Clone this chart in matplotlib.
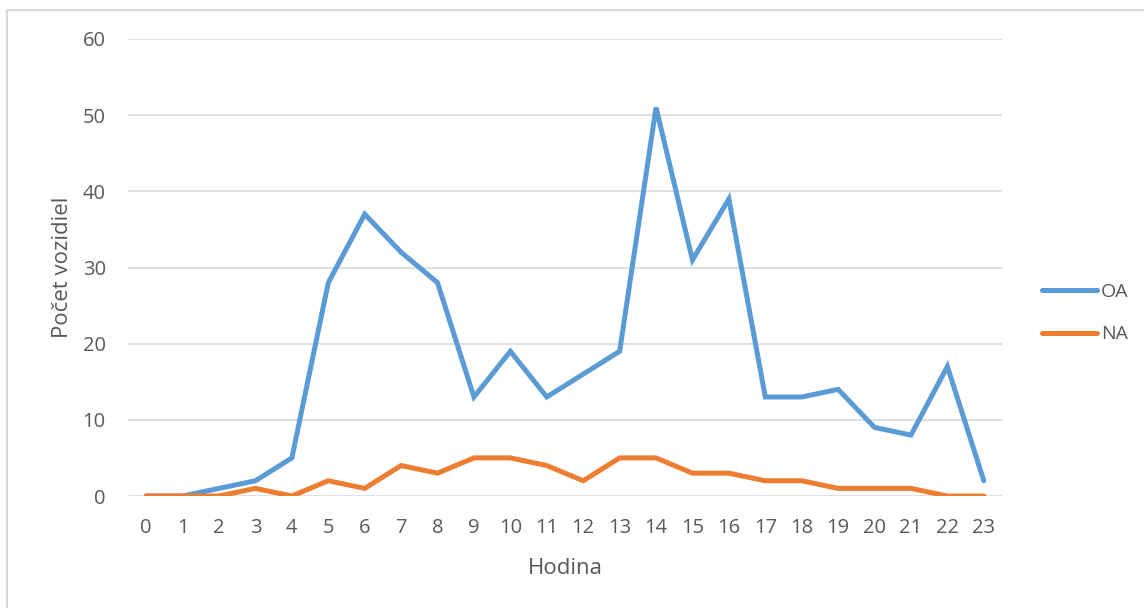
import matplotlib
matplotlib.use("Agg")
import matplotlib.pyplot as plt
from matplotlib.patches import Rectangle

hours = list(range(24))
oa = [0, 0, 1, 2, 5, 28, 37, 32, 28, 13, 19, 13, 16, 19, 51, 31, 39, 13, 13, 14, 9, 8, 17, 2]
na = [0, 0, 0, 1, 0, 2, 1, 4, 3, 5, 5, 4, 2, 5, 5, 3, 3, 2, 2, 1, 1, 1, 0, 0]

TEXT = "#595959"
GRID = "#D9D9D9"
plt.rcParams['font.family'] = ['Open Sans', 'DejaVu Sans']

fig = plt.figure(figsize=(11.44, 6.08), dpi=100)
ax = fig.add_axes([128 / 1144, 1 - 496 / 608, (1002 - 128) / 1144, (496 - 39) / 608])

ax.plot(hours, oa, color="#5B9BD5", lw=3.6, label="OA", solid_capstyle="round", solid_joinstyle="miter")
ax.plot(hours, na, color="#ED7D31", lw=3.6, label="NA", solid_capstyle="round", solid_joinstyle="miter")

ax.set_xlim(-0.5, 23.5)
ax.set_ylim(0, 60)
ax.set_yticks(range(0, 61, 10))
ax.set_xticks(hours)
ax.grid(axis="y", color=GRID, lw=1.2)
ax.set_axisbelow(True)
for s in ax.spines.values():
    s.set_visible(False)
ax.tick_params(length=0, labelsize=14.5, labelcolor=TEXT)
ax.tick_params(axis="x", pad=16)
ax.tick_params(axis="y", pad=16)

ax.set_xlabel("Hodina", fontsize=16, color=TEXT, labelpad=14)
ax.set_ylabel("Počet vozidiel", fontsize=16, color=TEXT, labelpad=7)

fig.legend(loc="center left", bbox_to_anchor=(1024 / 1144, 1 - 313 / 608), frameon=False,
           fontsize=14, labelcolor=TEXT, handlelength=2.85, handletextpad=0.2, labelspacing=1.27)

fig.patches.append(Rectangle((7 / 1144, -0.1), 1.2, 1.1 - 10 / 608, transform=fig.transFigure,
                             fill=False, edgecolor=GRID, lw=1.5))

fig.savefig("out.png", dpi=100)
